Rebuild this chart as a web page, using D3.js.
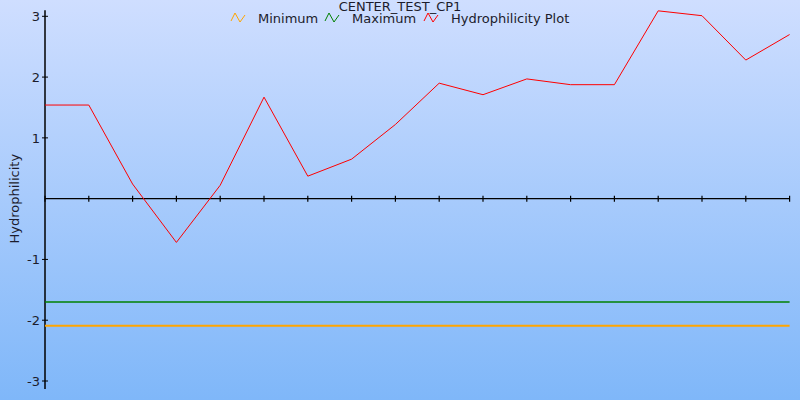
<!DOCTYPE html>
<html><head><meta charset="utf-8">
<script src="https://cdn.jsdelivr.net/npm/d3@7"></script>
<style>body{margin:0;overflow:hidden}svg{display:block}</style>
</head><body><svg id="c" width="800" height="400"></svg>
<script>
const title = "CENTER_TEST_CP1";
const positions = d3.range(1, 19);
const hydro = [1.54, 1.54, 0.24, -0.72, 0.22, 1.67, 0.37, 0.65, 1.22, 1.90, 1.71, 1.97, 1.875, 1.875, 3.09, 3.01, 2.28, 2.70];
const minimumVal = -2.09;
const maximumVal = -1.70;
const yTicks = [-3, -2, -1, 1, 2, 3];
const seriesNames = ["Minimum", "Maximum", "Hydrophilicity Plot"];
const seriesColors = ["orange", "green", "red"];

const W = 800, H = 400;
const svg = d3.select("#c");
const defs = svg.append("defs");
const g = defs.append("linearGradient").attr("id","bg").attr("x1",0).attr("y1",0).attr("x2",0).attr("y2",1);
g.append("stop").attr("offset","0%").attr("stop-color","#cfdeff");
g.append("stop").attr("offset","100%").attr("stop-color","#7fb7f9");
svg.append("rect").attr("width",W).attr("height",H).attr("fill","url(#bg)");

const x = d3.scaleLinear().domain([1, 18]).range([45, 789.6]);
const y = d3.scaleLinear().domain([-3, 3]).range([381, 16.3]);
const font = "DejaVu Sans, Verdana, sans-serif";
const txt = "#1c1c2c";

// y axis
svg.append("line").attr("x1",45).attr("x2",45).attr("y1",y(3.1)).attr("y2",y(-3.13)).attr("stroke","#000").attr("stroke-width",1.5);
const yt = svg.append("g");
yTicks.forEach(t => {
  yt.append("line").attr("x1",42).attr("x2",48).attr("y1",y(t)).attr("y2",y(t)).attr("stroke","#000");
  yt.append("text").attr("x",40).attr("y",y(t)).attr("dy","0.36em").attr("text-anchor","end")
    .attr("font-family",font).attr("font-size",13).attr("fill",txt).text(t);
});

// x axis at zero
svg.append("line").attr("x1",45).attr("x2",x(18)).attr("y1",y(0)).attr("y2",y(0)).attr("stroke","#000").attr("stroke-width",1.2);
positions.forEach(p => {
  svg.append("line").attr("x1",x(p)).attr("x2",x(p)).attr("y1",y(0)-3).attr("y2",y(0)+3).attr("stroke","#000").attr("stroke-width",1.2);
});

// y label
svg.append("text").attr("transform",`translate(19,${y(0)}) rotate(-90)`).attr("text-anchor","middle")
  .attr("font-family",font).attr("font-size",13).attr("fill",txt).text("Hydrophilicity");

// min / max lines
svg.append("line").attr("x1",x(1)).attr("x2",x(18)).attr("y1",y(minimumVal)).attr("y2",y(minimumVal)).attr("stroke","orange").attr("stroke-width",2);
svg.append("line").attr("x1",x(1)).attr("x2",x(18)).attr("y1",y(maximumVal)).attr("y2",y(maximumVal)).attr("stroke","green").attr("stroke-width",1.5);

// hydro line
svg.append("path").datum(hydro).attr("fill","none").attr("stroke","red").attr("stroke-width",1)
  .attr("d", d3.line().x((d,i)=>x(positions[i])).y(d=>y(d)));

// title
svg.append("text").attr("x",400).attr("y",10.5).attr("text-anchor","middle").attr("font-family",font)
  .attr("font-size",13).attr("fill",txt).text(title);

// legend
const legX = [231, 325, 424];
const legTextX = [258, 352, 451];
seriesNames.forEach((n,i) => {
  const x0 = legX[i], y0 = 18;
  svg.append("polyline").attr("points",`${x0},${y0+3} ${x0+4},${y0-5} ${x0+9},${y0+4} ${x0+14},${y0-3}`)
    .attr("fill","none").attr("stroke",seriesColors[i]).attr("stroke-width",1);
  svg.append("text").attr("x",legTextX[i]).attr("y",y0).attr("dy","0.36em").attr("font-family",font)
    .attr("font-size",13).attr("fill",txt).text(n);
});
</script></body></html>
